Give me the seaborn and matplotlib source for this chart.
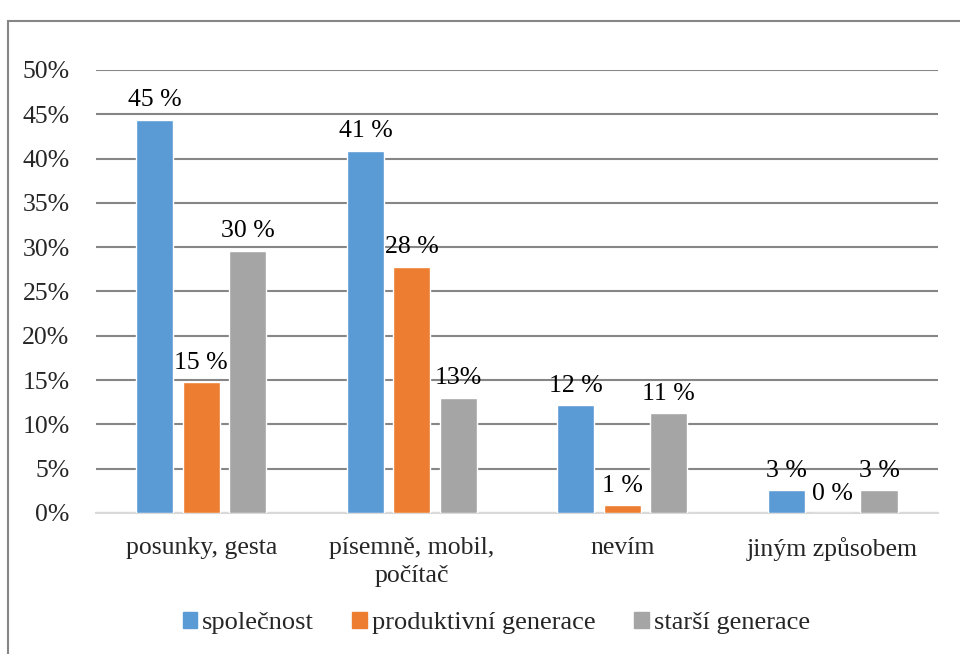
import matplotlib.pyplot as plt
import matplotlib.patches as mpatches
import pandas as pd
import seaborn as sns

# ── data ──────────────────────────────────────────────────────────────────────
categories = ["posunky, gesta", "písemně, mobil,\npočítač", "nevím", "jiným způsobem"]
series = ["společnost", "produktivní generace", "starší generace"]
spolecnost = [44.4, 40.9, 12.2, 2.6]
produktivni = [14.8, 27.8, 0.9, 0.0]
starsi = [29.6, 13.0, 11.3, 2.6]
labels_spol = ["45 %", "41 %", "12 %", "3 %"]
labels_prod = ["15 %", "28 %", "1 %", "0 %"]
labels_star = ["30 %", "13%", "11 %", "3 %"]
y_ticks = [0, 5, 10, 15, 20, 25, 30, 35, 40, 45, 50]

colors = ["#5B9BD5", "#ED7D31", "#A5A5A5"]

# ── styl ──────────────────────────────────────────────────────────────────────
sns.set_theme(style="white")
plt.rcParams["font.family"] = ["Liberation Serif", "DejaVu Serif"]
FS = 18.5

df = pd.DataFrame(
    {
        "kategorie": categories * 3,
        "skupina": [s for s in series for _ in categories],
        "hodnota": spolecnost + produktivni + starsi,
    }
)

fig = plt.figure(figsize=(9.6, 6.54), dpi=100)
ax = fig.add_axes([0.100, 0.2156, 0.877, 0.6774])

sns.barplot(
    data=df, x="kategorie", y="hodnota", hue="skupina",
    order=categories, hue_order=series, palette=colors,
    width=0.66, gap=0.2, saturation=1, ax=ax, legend=False, zorder=3,
)

# popisky hodnot
for cont, labs in zip(ax.containers, [labels_spol, labels_prod, labels_star]):
    ax.bar_label(cont, labels=labs, padding=6, fontsize=FS, color="#000000")

ax.set_ylim(0, 50)
ax.set_yticks(y_ticks)
ax.set_yticklabels([f"{v}%" for v in y_ticks])
ax.set_xlim(-0.5, 3.5)
ax.set_xlabel("")
ax.set_ylabel("")
ax.tick_params(axis="y", length=0, pad=19, labelsize=FS)
ax.tick_params(axis="x", length=0, pad=17, labelsize=FS)
for lab in ax.get_xticklabels():
    lab.set_linespacing(1.35)

ax.yaxis.grid(True, color="#868686", linewidth=1.5, zorder=0)
ax.set_axisbelow(True)
for side in ["left", "right", "top"]:
    ax.spines[side].set_visible(False)
ax.spines["bottom"].set_color("#D9D9D9")
ax.spines["bottom"].set_linewidth(1.5)

# legenda
handles = [mpatches.Patch(color=c, label=s) for c, s in zip(colors, series)]
fig.legend(
    handles=handles, loc="center", bbox_to_anchor=(0.517, 0.047), ncol=3,
    frameon=False, fontsize=19, handlelength=0.55, handleheight=0.55,
    handletextpad=0.2, columnspacing=1.45,
)

# rámeček grafu
fig.patches.append(
    mpatches.Rectangle(
        (0.0083, -0.1), 1.2, 1.068, transform=fig.transFigure,
        fill=False, edgecolor="#868686", linewidth=1.5, zorder=0,
    )
)

fig.savefig("out.png", dpi=100)
